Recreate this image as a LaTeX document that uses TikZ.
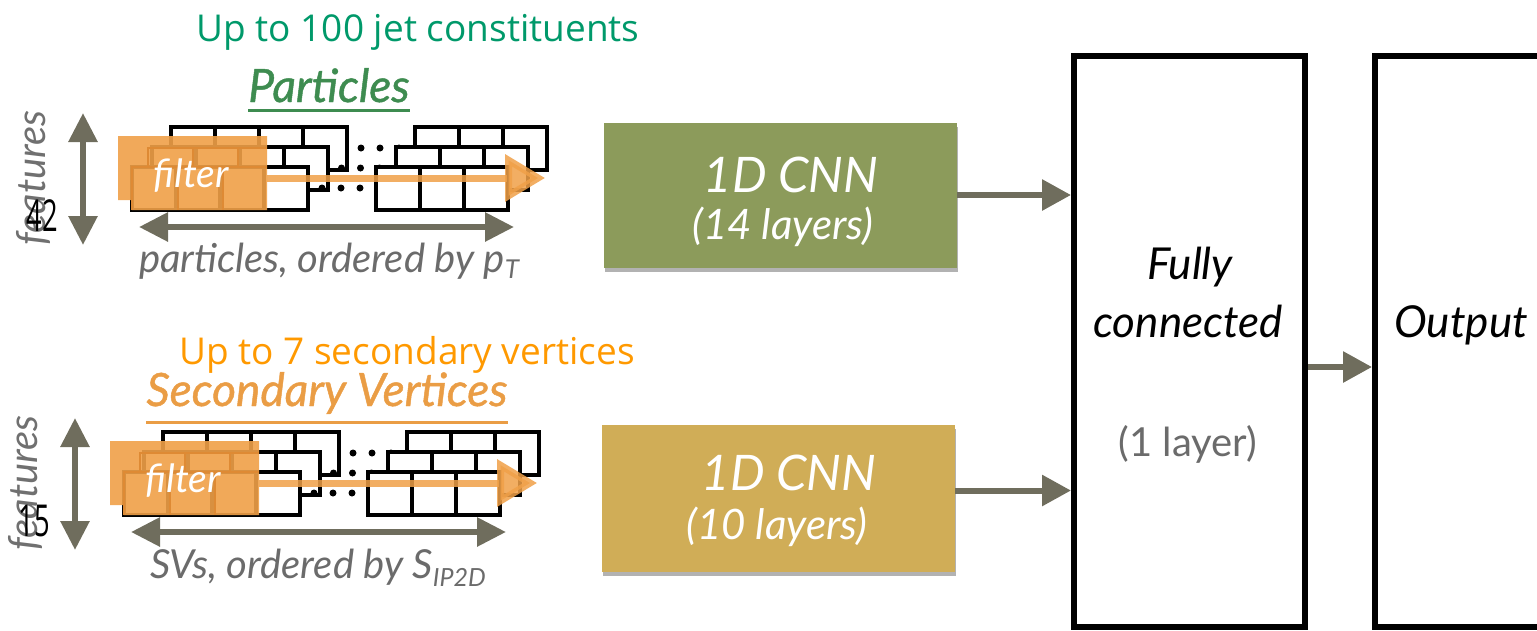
\documentclass[tikz,border=0pt]{standalone}
\usepackage{fontspec}
\setmainfont{Lato}
\newfontfamily\opensans{Open Sans}
\usetikzlibrary{positioning,arrows.meta,shadows}

\definecolor{jetgreen}{HTML}{00996A}
\definecolor{partgreen}{HTML}{3E8C50}
\definecolor{svnoteorange}{HTML}{FF9900}
\definecolor{svorange}{HTML}{EA9D45}
\definecolor{filterorange}{HTML}{F0A048}
\definecolor{filterdark}{HTML}{DE8A34}
\definecolor{arrowgray}{HTML}{6F6D5D}
\definecolor{labelgray}{HTML}{6B6B6B}
\definecolor{featgray}{HTML}{707070}
\definecolor{cnnolive}{HTML}{8C9B5B}
\definecolor{cnnmustard}{HTML}{D0AD57}

\tikzset{
  cell/.style={draw=black, fill=white, line width=4pt},
  axisarrow/.style={draw=arrowgray, line width=6pt, {Triangle[length=29pt,width=28pt]}-{Triangle[length=29pt,width=28pt]}},
  flowarrow/.style={draw=arrowgray, line width=6pt, -{Triangle[length=29pt,width=30pt]}},
  filterline/.style={draw=filterdark, line width=2pt},
  sweep/.style={draw=filterorange, opacity=.85, line width=7pt, -{Triangle[length=40pt,width=46pt]}},
  note/.style={inner sep=0pt, font=\opensans\fontsize{37}{40}\selectfont},
  title/.style={inner sep=0pt, font=\fontsize{46}{50}\selectfont\itshape\addfontfeature{FakeBold=1}},
  caption/.style={inner sep=0pt, text=labelgray, font=\fontsize{40}{44}\selectfont\itshape},
  featlabel/.style={inner sep=0pt, rotate=90, text=featgray, font=\fontsize{40}{44}\selectfont\itshape},
  countlabel/.style={inner sep=0pt, xscale=.62, transform shape, font=\opensans\fontsize{44}{46}\selectfont},
  filtertext/.style={inner sep=0pt, text=white, font=\fontsize{39}{42}\selectfont\itshape},
  cnnbox/.style={minimum width=353pt, minimum height=145pt, inner sep=0pt,
    drop shadow={shadow xshift=1pt, shadow yshift=-4pt, opacity=.3, fill=black}},
  cnntext/.style={inner sep=0pt, text=white, font=\fontsize{49}{52}\selectfont\itshape},
  cnnsub/.style={inner sep=0pt, text=white, font=\fontsize{42}{44}\selectfont\itshape},
  layerbox/.style={draw=black, line width=6pt, minimum height=571pt, inner sep=0pt},
  boxtext/.style={inner sep=0pt, font=\fontsize{44}{48}\selectfont\itshape},
}

% feature axis, input grid, filter and sweep arrow; #1 prefix, #2/#3 shift, #4 feature count
\newcommand{\inputblock}[4]{%
\begin{scope}[shift={(#2,#3)}]
  \node[featlabel] (#1feat) at (33,178) {features};
  \node[countlabel] (#1count) at (42,216) {#4};
  \coordinate (#1axtop) at (83,113);
  \coordinate (#1axbot) at (83,245);
  \draw[axisarrow] (#1axtop) -- (#1axbot);
  % three stacked layers of cells, back to front
  \foreach \l in {0,1,2}{
    \pgfmathsetmacro{\gx}{171-19.5*\l}
    \pgfmathsetmacro{\gy}{127+20*\l}
    \foreach \i in {0,...,3}
      \draw[cell] ({\gx+44*\i},\gy) rectangle ++(44,43);
    \foreach \d in {14,33,52}
      \fill ({\gx+176+\d},{\gy+21}) circle (3.5);
    \foreach \i in {0,1,2}
      \draw[cell] ({\gx+244+44*\i},\gy) rectangle ++(44,43);
  }
  % the filter
  \fill[filterorange, opacity=.9] (118,136) -- (267,136) -- (267,210) -- (132,210) -- (132,200) -- (118,200) -- cycle;
  \draw[filterline] (148,167) -- (148,148) -- (267,148)
    (132,210) -- (132,167) -- (267,167)
    (193,148) -- (193,167) (238,148) -- (238,167)
    (178,167) -- (178,210) (223,167) -- (223,210);
  \node[filtertext, anchor=base] (#1filter) at (191,187) {filter};
  \coordinate (#1sweepstart) at (267,178);
  \coordinate (#1sweepend) at (545,178);
  \draw[sweep] (#1sweepstart) -- (#1sweepend);
  \coordinate (#1axleft) at (139,227);
  \coordinate (#1axright) at (514,227);
  \draw[axisarrow] (#1axleft) -- (#1axright);
\end{scope}}

\begin{document}
\begin{tikzpicture}[x=1pt, y=-1pt]
  \useasboundingbox (0,0) rectangle (1537,630);
  \clip (0,0) rectangle (1537,630);

  % particle branch
  \node[note, text=jetgreen, anchor=base] (jetnote) at (418,41) {Up to 100 jet constituents};
  \node[title, text=partgreen, anchor=base] (partlabel) at (329,102) {Particles};
  \draw[partgreen, line width=3pt] ([yshift=-8pt]partlabel.base west) -- ([yshift=-8pt]partlabel.base east);
  \inputblock{part}{0}{0}{42}
  \node[caption, anchor=base] (partcaption) at (329,272) {particles, ordered by p\raisebox{-.15em}{\fontsize{26}{26}\selectfont T}};

  % secondary vertex branch
  \node[note, text=svnoteorange, anchor=base] (svnote) at (407,364) {Up to 7 secondary vertices};
  \node[title, text=svorange, anchor=base] (svlabel) at (327,406) {Secondary Vertices};
  \draw[svorange, line width=3pt] ([yshift=-16pt]svlabel.base west) -- ([yshift=-16pt]svlabel.base east);
  \inputblock{sv}{-8}{305}{15}
  \node[caption, anchor=base] (svcaption) at (318,578) {SVs, ordered by S\raisebox{-.2em}{\fontsize{25}{26}\selectfont IP2D}};

  % convolution stacks
  \node[cnnbox, fill=cnnolive] (cnnpart) at (780.5,195) {};
  \node[cnntext, anchor=base] (cnnparttitle) at (791,192) {1D CNN};
  \node[cnnsub, anchor=base] (cnnpartsub) at (783,239) {(14 layers)};
  \node[cnnbox, fill=cnnmustard, minimum height=147pt] (cnnsv) at (778.5,498.5) {};
  \node[cnntext, anchor=base] (cnnsvtitle) at (789,490) {1D CNN};
  \node[cnnsub, anchor=base] (cnnsvsub) at (777,539) {(10 layers)};

  % dense part
  \node[layerbox, minimum width=231pt] (fc) at (1189.5,341) {};
  \node[boxtext, anchor=base] (fctop) at (1190,279) {Fully};
  \node[boxtext, anchor=base] (fcmid) at (1188,337) {connected};
  \node[inner sep=0pt, text=labelgray, font=\fontsize{40}{44}\selectfont, anchor=base] (fcsub) at (1188,456) {(1 layer)};
  \node[layerbox, minimum width=172pt] (out) at (1461,341) {};
  \node[boxtext, anchor=base] (outtext) at (1461,337) {Output};

  \draw[flowarrow] (cnnpart.east) -- (cnnpart.east -| fc.west);
  \draw[flowarrow] ([yshift=8pt]cnnsv.east) -- ([yshift=8pt]cnnsv.east -| fc.west);
  \draw[flowarrow] ([yshift=-26pt]fc.east) -- ([yshift=-26pt]fc.east -| out.west);
\end{tikzpicture}
\end{document}
